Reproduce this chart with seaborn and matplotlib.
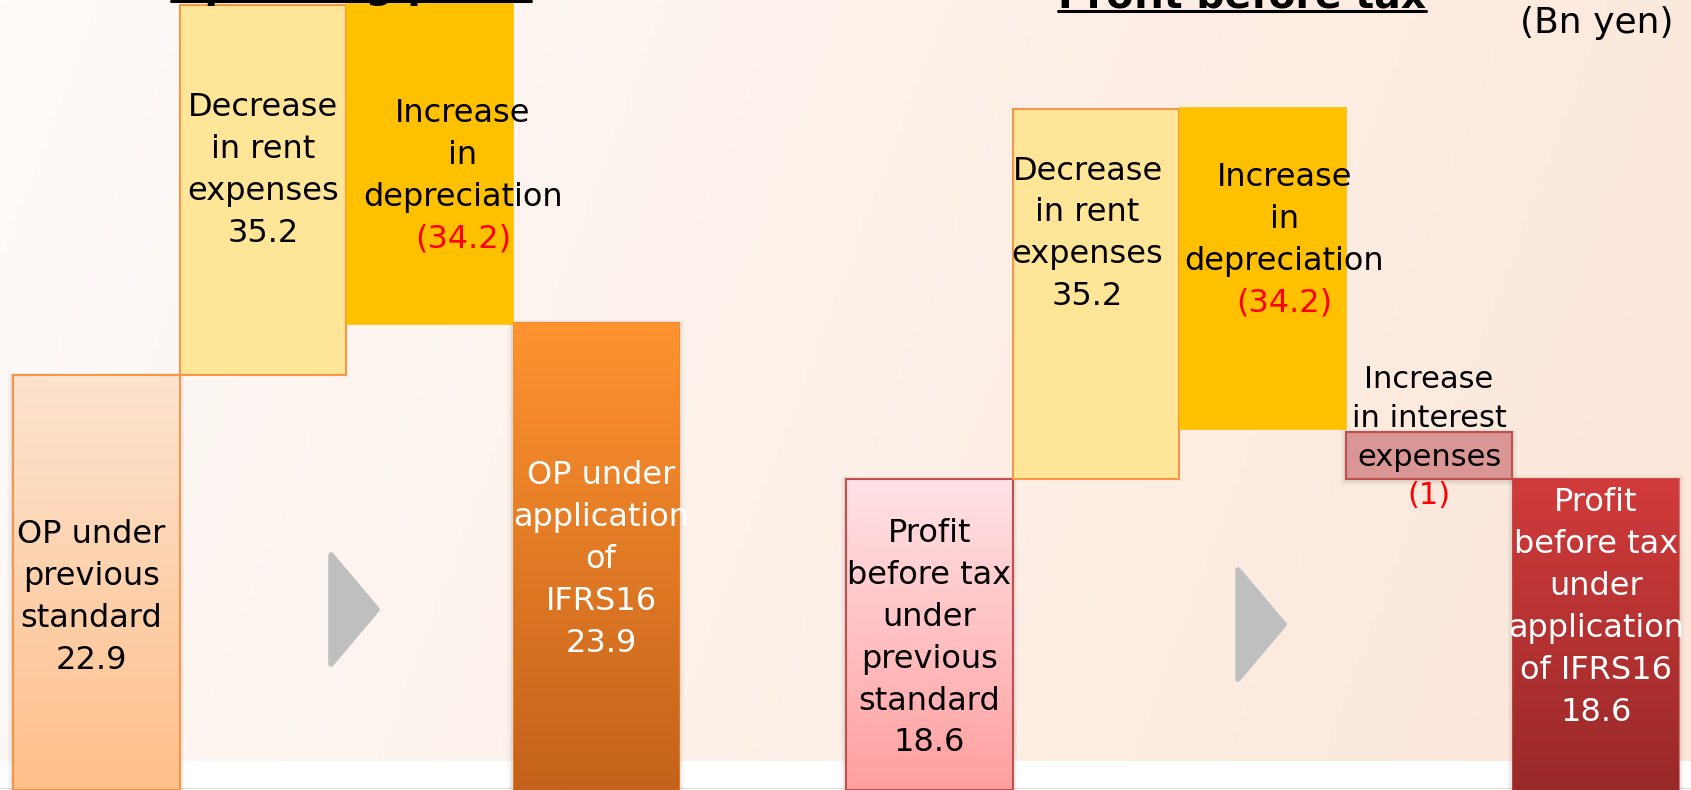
import numpy as np
import matplotlib
matplotlib.use("Agg")
import matplotlib.pyplot as plt
import matplotlib.colors as mcolors
from matplotlib.patches import Polygon, Rectangle
from matplotlib.lines import Line2D
import seaborn as sns

# ---- data (Bn yen) ----
# Operating profit bridge
op_labels = ["OP under\nprevious\nstandard", "Decrease\nin rent\nexpenses",
             "Increase\nin\ndepreciation", "OP under\napplication\nof\nIFRS16"]
op_values = [22.9, 35.2, -34.2, 23.9]
op_kind = ["total", "change", "change", "total"]

# Profit before tax bridge
pbt_labels = ["Profit\nbefore tax\nunder\nprevious\nstandard", "Decrease\nin rent\nexpenses",
              "Increase\nin\ndepreciation", "Increase\nin interest\nexpenses",
              "Profit\nbefore tax\nunder\napplication\nof IFRS16"]
pbt_values = [18.6, 35.2, -34.2, -1, 18.6]
pbt_kind = ["total", "change", "change", "change", "total"]

# the slide draws the bars schematically, not to scale:
# levels as drawn, in % of the slide height
op_bottom = [0, 52.5, 59.0, 0]
op_top = [52.5, 99.4, 99.6, 59.2]
pbt_bottom = [0, 39.4, 45.7, 39.4, 0]
pbt_top = [39.4, 86.2, 86.5, 45.3, 39.5]

# ---- layout / style ----
op_slots = [0, 1, 2, 3]
pbt_slots = [5, 6, 7, 8, 9]
op_label_y = [24.4, 78.4, 77.7, 29.2]
pbt_label_y = [19.2, 70.4, 69.6, 44.6, 23.1]
op_label_dx = [-0.03, 0.0, 0.2, 0.03]
pbt_label_dx = [0.0, -0.05, 0.13, 0.0, 0.0]

op_style = [
    dict(grad=("#FCE4D0", "#FFBF8A"), edge="#F79646", lw=1.5, text="black", shadow=True),
    dict(face="#FFE597", edge="#F79646", lw=1.5, text="black"),
    dict(face="#FFC000", edge="#FFC000", lw=0.5, text="black"),
    dict(grad=("#FF9330", "#C4621B"), edge="#F0862A", lw=0.5, text="white", shadow=True),
]
pbt_style = [
    dict(grad=("#FFE3E7", "#FF9F9F"), edge="#C0504D", lw=1.5, text="black", shadow=True),
    dict(face="#FFE597", edge="#F79646", lw=1.5, text="black"),
    dict(face="#FFC000", edge="#FFC000", lw=0.5, text="black"),
    dict(face="#D99694", edge="#C0504D", lw=1.5, text="black", shadow=True, small=True),
    dict(grad=("#D23B3B", "#992929"), edge="#C0504D", lw=0.5, text="white", shadow=True),
]

sns.set_theme(style="white")
plt.rcParams["font.family"] = ["DejaVu Sans"]

W, H = 1691, 790
fig = plt.figure(figsize=(W / 100, H / 100), dpi=100)
ax = fig.add_axes([0, 0, 1, 1])
x_lo, x_hi = -0.078, 10.072
ax.set_xlim(x_lo, x_hi)
ax.set_ylim(0, 100)
ax.axis("off")

# slide background
gx = np.linspace(0, 1, 300)[None, :]
gy = np.linspace(0, 1, 150)[:, None]
t = np.clip(0.85 * gx + 0.15 * gy, 0, 1)
c0 = np.array(mcolors.to_rgb("#FEFBF9"))
c1 = np.array(mcolors.to_rgb("#FCE6D8"))
ax.imshow(c0 + (c1 - c0) * t[..., None], extent=(x_lo, x_hi, 0, 100),
          aspect="auto", origin="upper", zorder=0)
ax.add_patch(Rectangle((x_lo, 0), x_hi - x_lo, 29 / 7.9, facecolor="white",
                       edgecolor="none", zorder=0.5))
ax.axhline(0.2, color="#E4E4E4", lw=1, zorder=0.6)


def draw_bar(slot, bottom, top, st):
    if st.get("shadow"):
        for k in range(3):
            ex = (k + 1) * 1.5
            ax.add_patch(Rectangle((slot - ex / 166.6, bottom - ex / 7.9 - 0.25),
                                   1 + 2 * ex / 166.6, top - bottom + 2 * ex / 7.9,
                                   facecolor="#808080", alpha=0.07, edgecolor="none",
                                   zorder=1))
    face = "none" if "grad" in st else st["face"]
    bar = ax.bar(slot, top - bottom, width=1, bottom=bottom, align="edge",
                 facecolor=face, edgecolor=st["edge"], linewidth=st["lw"],
                 zorder=3)[0]
    if "grad" in st:
        a = np.array(mcolors.to_rgb(st["grad"][0]))
        b = np.array(mcolors.to_rgb(st["grad"][1]))
        s = np.linspace(0, 1, 200)[:, None, None]
        img = a + (b - a) * s
        im = ax.imshow(img, extent=(slot, slot + 1, max(bottom, 0), top),
                       aspect="auto", origin="upper", zorder=2.9)
        im.set_clip_path(bar)


def fmt(v):
    return f"({abs(v):g})" if v < 0 else f"{v:g}"


def draw_label(x, yc, name, value, kind, st):
    small = st.get("small", False)
    size = 22 if small else 23
    step = 4.9 if small else 5.3
    lines = [(ln, st["text"]) for ln in name.split("\n")]
    if kind == "total":
        lines.append((fmt(value), st["text"]))
    else:
        lines.append((fmt(value), "red" if value < 0 else "black"))
    n = len(lines)
    for i, (txt, col) in enumerate(lines):
        y = yc + (n - 1) / 2 * step - i * step
        ax.text(x, y, txt, color=col, ha="center", va="center",
                fontsize=size, zorder=5)


for slots, bots, tops, styles, labels, vals, kinds, ly, dx in [
        (op_slots, op_bottom, op_top, op_style, op_labels, op_values, op_kind,
         op_label_y, op_label_dx),
        (pbt_slots, pbt_bottom, pbt_top, pbt_style, pbt_labels, pbt_values, pbt_kind,
         pbt_label_y, pbt_label_dx)]:
    for i in range(len(slots)):
        draw_bar(slots[i], bots[i], tops[i], styles[i])
        draw_label(slots[i] + 0.5 + dx[i], ly[i], labels[i], vals[i], kinds[i],
                   styles[i])

# grey "step" arrows
for base_x, tip_x, y_top, y_bot in [(1.909, 2.185, 29.75, 15.95),
                                    (7.353, 7.629, 27.85, 14.05)]:
    ax.add_patch(Polygon([(base_x, y_top), (base_x, y_bot), (tip_x, (y_top + y_bot) / 2)],
                         closed=True, facecolor="#BFBFBF", edgecolor="#BFBFBF",
                         lw=4, joinstyle="round", zorder=2))

# section titles (cut off at the top of the slide) with underline
renderer = fig.canvas.get_renderer()
for txt, xc, base_px, line_px in [("Operating profit", 351, -2, 1),
                                  ("Profit before tax", 1242, 8, 11)]:
    tt = fig.text(xc / W, 1 - base_px / H, txt, ha="center", va="baseline",
                  fontsize=28.4, fontweight="bold", color="black", zorder=6)
    bb = tt.get_window_extent(renderer)
    fig.add_artist(Line2D([bb.x0 / W, bb.x1 / W], [1 - line_px / H] * 2,
                          transform=fig.transFigure, color="black", lw=2.2))

fig.text(1674 / W, 1 - 23 / H, "(Bn yen)", ha="right", va="center",
         fontsize=26, color="black")

fig.savefig("out.png", dpi=100)
